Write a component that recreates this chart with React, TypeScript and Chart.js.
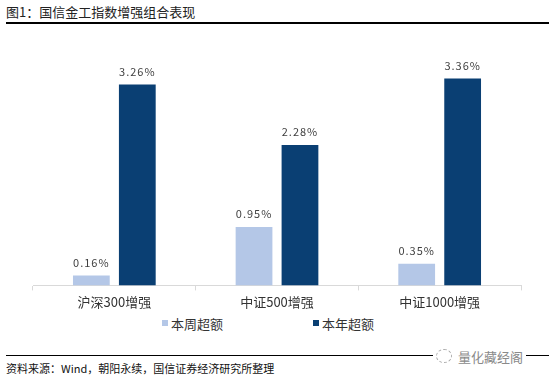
import React, { useEffect, useRef } from "react";
import { Chart, registerables } from "chart.js";

Chart.register(...registerables);

const categories = ["沪深300增强", "中证500增强", "中证1000增强"];
const weeklyExcess = [0.16, 0.95, 0.35];
const yearlyExcess = [3.26, 2.28, 3.36];
const seriesNames = ["本周超额", "本年超额"];
const seriesColors = ["#B4C7E7", "#0A3F73"];

const FONT = "'Noto Sans CJK SC', 'Noto Sans', sans-serif";

const labelPlugin = {
  id: "barLabels",
  afterDatasetsDraw(chart: any) {
    const ctx = chart.ctx;
    ctx.save();
    ctx.font = `11px ${FONT}`;
    ctx.fillStyle = "#404040";
    ctx.textAlign = "center";
    ctx.textBaseline = "middle";
    try { (ctx as any).letterSpacing = "1px"; } catch (e) {}
    chart.data.datasets.forEach((ds: any, i: number) => {
      const meta = chart.getDatasetMeta(i);
      meta.data.forEach((el: any, j: number) => {
        const v = ds.data[j] as number;
        ctx.fillText(v.toFixed(2) + "%", el.x, el.y - 13);
      });
    });
    ctx.restore();
  },
};

export default function App() {
  const ref = useRef<HTMLCanvasElement>(null);
  useEffect(() => {
    if (!ref.current) return;
    const chart = new Chart(ref.current, {
      type: "bar",
      data: {
        labels: categories,
        datasets: [
          {
            label: seriesNames[0],
            data: weeklyExcess,
            backgroundColor: seriesColors[0],
            categoryPercentage: 0.565,
            barPercentage: 0.8,
          },
          {
            label: seriesNames[1],
            data: yearlyExcess,
            backgroundColor: seriesColors[1],
            categoryPercentage: 0.565,
            barPercentage: 0.8,
          },
        ],
      },
      options: {
        animation: false,
        responsive: false,
        maintainAspectRatio: false,
        layout: { padding: { left: 33, right: 28, top: 9, bottom: 0 } },
        plugins: { legend: { display: false }, tooltip: { enabled: false } },
        scales: {
          x: {
            offset: true,
            grid: {
              offset: true,
              drawOnChartArea: false,
              drawTicks: true,
              tickLength: 5,
              color: "#D9D9D9",
            },
            border: { display: true, color: "#D9D9D9" },
            ticks: {
              padding: 4,
              color: "#333333",
              font: { family: FONT, size: 13 },
            },
          },
          y: {
            display: false,
            min: 0,
            max: 4,
          },
        },
      },
      plugins: [labelPlugin],
    });
    return () => chart.destroy();
  }, []);

  return (
    <div
      style={{
        position: "absolute",
        left: 0,
        top: 0,
        width: 549,
        height: 381,
        background: "#fff",
        fontFamily: FONT,
        overflow: "hidden",
      }}
    >
      <div style={{ position: "absolute", left: 6, top: 3, fontSize: 13, lineHeight: "18px", color: "#222" }}>
        图1：国信金工指数增强组合表现
      </div>
      <div style={{ position: "absolute", left: 6, top: 22, width: 543, height: 2, background: "#000" }} />
      <canvas
        ref={ref}
        width={549}
        height={284}
        style={{ position: "absolute", left: 0, top: 30, width: 549, height: 284 }}
      />
      {seriesNames.map((name, i) => (
        <div
          key={name}
          style={{
            position: "absolute",
            left: i === 0 ? 162 : 313,
            top: 314,
            height: 18,
            display: "flex",
            alignItems: "center",
            fontSize: 13,
            color: "#333",
          }}
        >
          <span style={{ display: "inline-block", width: 6, height: 6, background: seriesColors[i], marginRight: 3 }} />
          {name}
        </div>
      ))}
      <div style={{ position: "absolute", left: 6, top: 355, width: 543, height: 1, background: "#000" }} />
      <div
        style={{
          position: "absolute",
          left: 433,
          top: 346,
          height: 20,
          display: "flex",
          alignItems: "center",
          background: "#fff",
          padding: "0 3px",
          color: "#8a8a8a",
          fontSize: 13,
        }}
      >
        <span
          style={{
            display: "inline-block",
            width: 14,
            height: 12,
            border: "1px dashed #aaa",
            borderRadius: "50%",
            marginRight: 6,
          }}
        />
        量化藏经阁
      </div>
      <div style={{ position: "absolute", left: 6, top: 360, fontSize: 11, lineHeight: "16px", color: "#111" }}>
        资料来源：Wind，朝阳永续，国信证券经济研究所整理
      </div>
    </div>
  );
}
